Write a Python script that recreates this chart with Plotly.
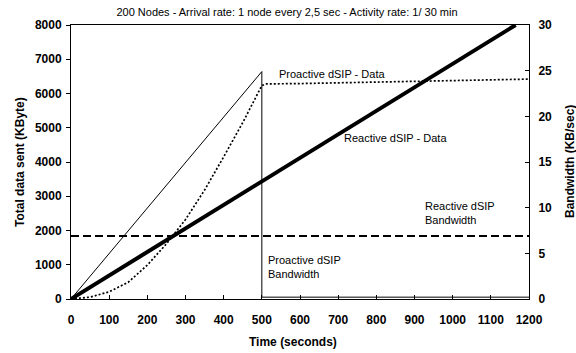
import plotly.graph_objects as go

# Reactive dSIP: cumulative data sent (KByte) over time (s)
time_reactive = [0, 1165]
reactive_data = [0, 8000]

# Reactive dSIP: bandwidth (KB/sec)
time_reactive_bw = [0, 1200]
reactive_bw = [6.9, 6.9]

# Proactive dSIP: bandwidth (KB/sec)
time_proactive_bw = [0, 500, 500, 1200]
proactive_bw = [0, 24.9, 0.2, 0.2]

# Proactive dSIP: cumulative data sent (KByte)
time_proactive_data = [0, 50, 100, 150, 200, 250, 300, 350, 400, 450, 500,
                       510, 600, 700, 800, 900, 1000, 1100, 1200]
proactive_data = [0, 55, 210, 490, 990, 1610, 2320, 3180, 4150, 5150, 6230,
                  6280, 6290, 6310, 6340, 6355, 6370, 6400, 6420]

x_ticks = list(range(0, 1201, 100))
y_ticks = list(range(0, 8001, 1000))
y2_ticks = list(range(0, 31, 5))

FONT = "Liberation Sans, Arial, sans-serif"
tick_font = dict(family=FONT, size=12, color="black", weight="bold")

fig = go.Figure()
fig.add_trace(go.Scatter(x=time_proactive_bw, y=proactive_bw, yaxis="y2",
                         mode="lines", line=dict(color="black", width=1),
                         name="Proactive dSIP Bandwidth"))
fig.add_trace(go.Scatter(x=time_reactive_bw, y=reactive_bw, yaxis="y2",
                         mode="lines",
                         line=dict(color="black", width=2, dash="8px,4px"),
                         name="Reactive dSIP Bandwidth"))
fig.add_trace(go.Scatter(x=time_proactive_data, y=proactive_data,
                         mode="lines",
                         line=dict(color="black", width=1.7, dash="2px,2px"),
                         name="Proactive dSIP - Data"))
fig.add_trace(go.Scatter(x=time_reactive, y=reactive_data, mode="lines",
                         line=dict(color="black", width=4),
                         name="Reactive dSIP - Data"))

label_font = dict(family=FONT, size=11, color="black")
title_font = dict(family=FONT, size=12, color="black", weight="bold")

# plot-area margins (px)
ml, mr, mt, mb = 71, 47, 25, 54
pw, ph = 576 - ml - mr, 353 - mt - mb


def paper_x(px):
    return (px - ml) / pw


def paper_y(py):
    return (353 - mb - py) / ph


annotations = [
    dict(x=539, y=6557, xref="x", yref="y", text="Proactive dSIP - Data",
         xanchor="left", yanchor="middle", showarrow=False, font=label_font),
    dict(x=709, y=4689, xref="x", yref="y", text="Reactive dSIP - Data",
         xanchor="left", yanchor="middle", showarrow=False, font=label_font),
    dict(x=922, y=2499, xref="x", yref="y", text="Reactive dSIP<br>Bandwidth",
         xanchor="left", yanchor="middle", align="left", showarrow=False,
         font=label_font),
    dict(x=511, y=937, xref="x", yref="y", text="Proactive dSIP<br>Bandwidth",
         xanchor="left", yanchor="middle", align="left", showarrow=False,
         font=label_font),
    # axis titles
    dict(x=paper_x(293), y=paper_y(342), xref="paper", yref="paper",
         text="Time (seconds)", showarrow=False, xanchor="center",
         yanchor="middle", font=title_font),
    dict(x=paper_x(20), y=0.5, xref="paper", yref="paper",
         text="Total data sent (KByte)", textangle=-90, showarrow=False,
         xanchor="center", yanchor="middle", font=title_font),
    dict(x=paper_x(570), y=0.5, xref="paper", yref="paper",
         text="Bandwidth (KB/sec)", textangle=-90, showarrow=False,
         xanchor="center", yanchor="middle", font=title_font),
]

fig.update_layout(
    width=576, height=353,
    margin=dict(l=ml, r=mr, t=mt, b=mb),
    paper_bgcolor="white", plot_bgcolor="white",
    showlegend=False,
    title=dict(text="200 Nodes - Arrival rate: 1 node every 2,5 sec - Activity rate: 1/ 30 min",
               x=287 / 576, y=1 - 12 / 353, xanchor="center", yanchor="middle",
               font=dict(family=FONT, size=11, color="black")),
    xaxis=dict(range=[0, 1200], tickvals=x_ticks, ticks="inside", ticklen=4,
               tickcolor="black", showline=True, linecolor="black", linewidth=1,
               mirror=True, showgrid=False, zeroline=False, tickfont=tick_font,
               ticklabelstandoff=10),
    yaxis=dict(range=[0, 8000], tickvals=y_ticks, ticks="outside", ticklen=4,
               tickcolor="black", showline=True, linecolor="black", linewidth=1,
               showgrid=False, zeroline=False, tickfont=tick_font,
               ticklabelstandoff=2),
    yaxis2=dict(range=[0, 30], tickvals=y2_ticks, overlaying="y", side="right",
                ticks="inside", ticklen=4, tickcolor="black", showline=True,
                linecolor="black", linewidth=1, showgrid=False, zeroline=False,
                tickfont=tick_font, ticklabelstandoff=6),
    annotations=annotations,
)

fig.write_html("out.html")
